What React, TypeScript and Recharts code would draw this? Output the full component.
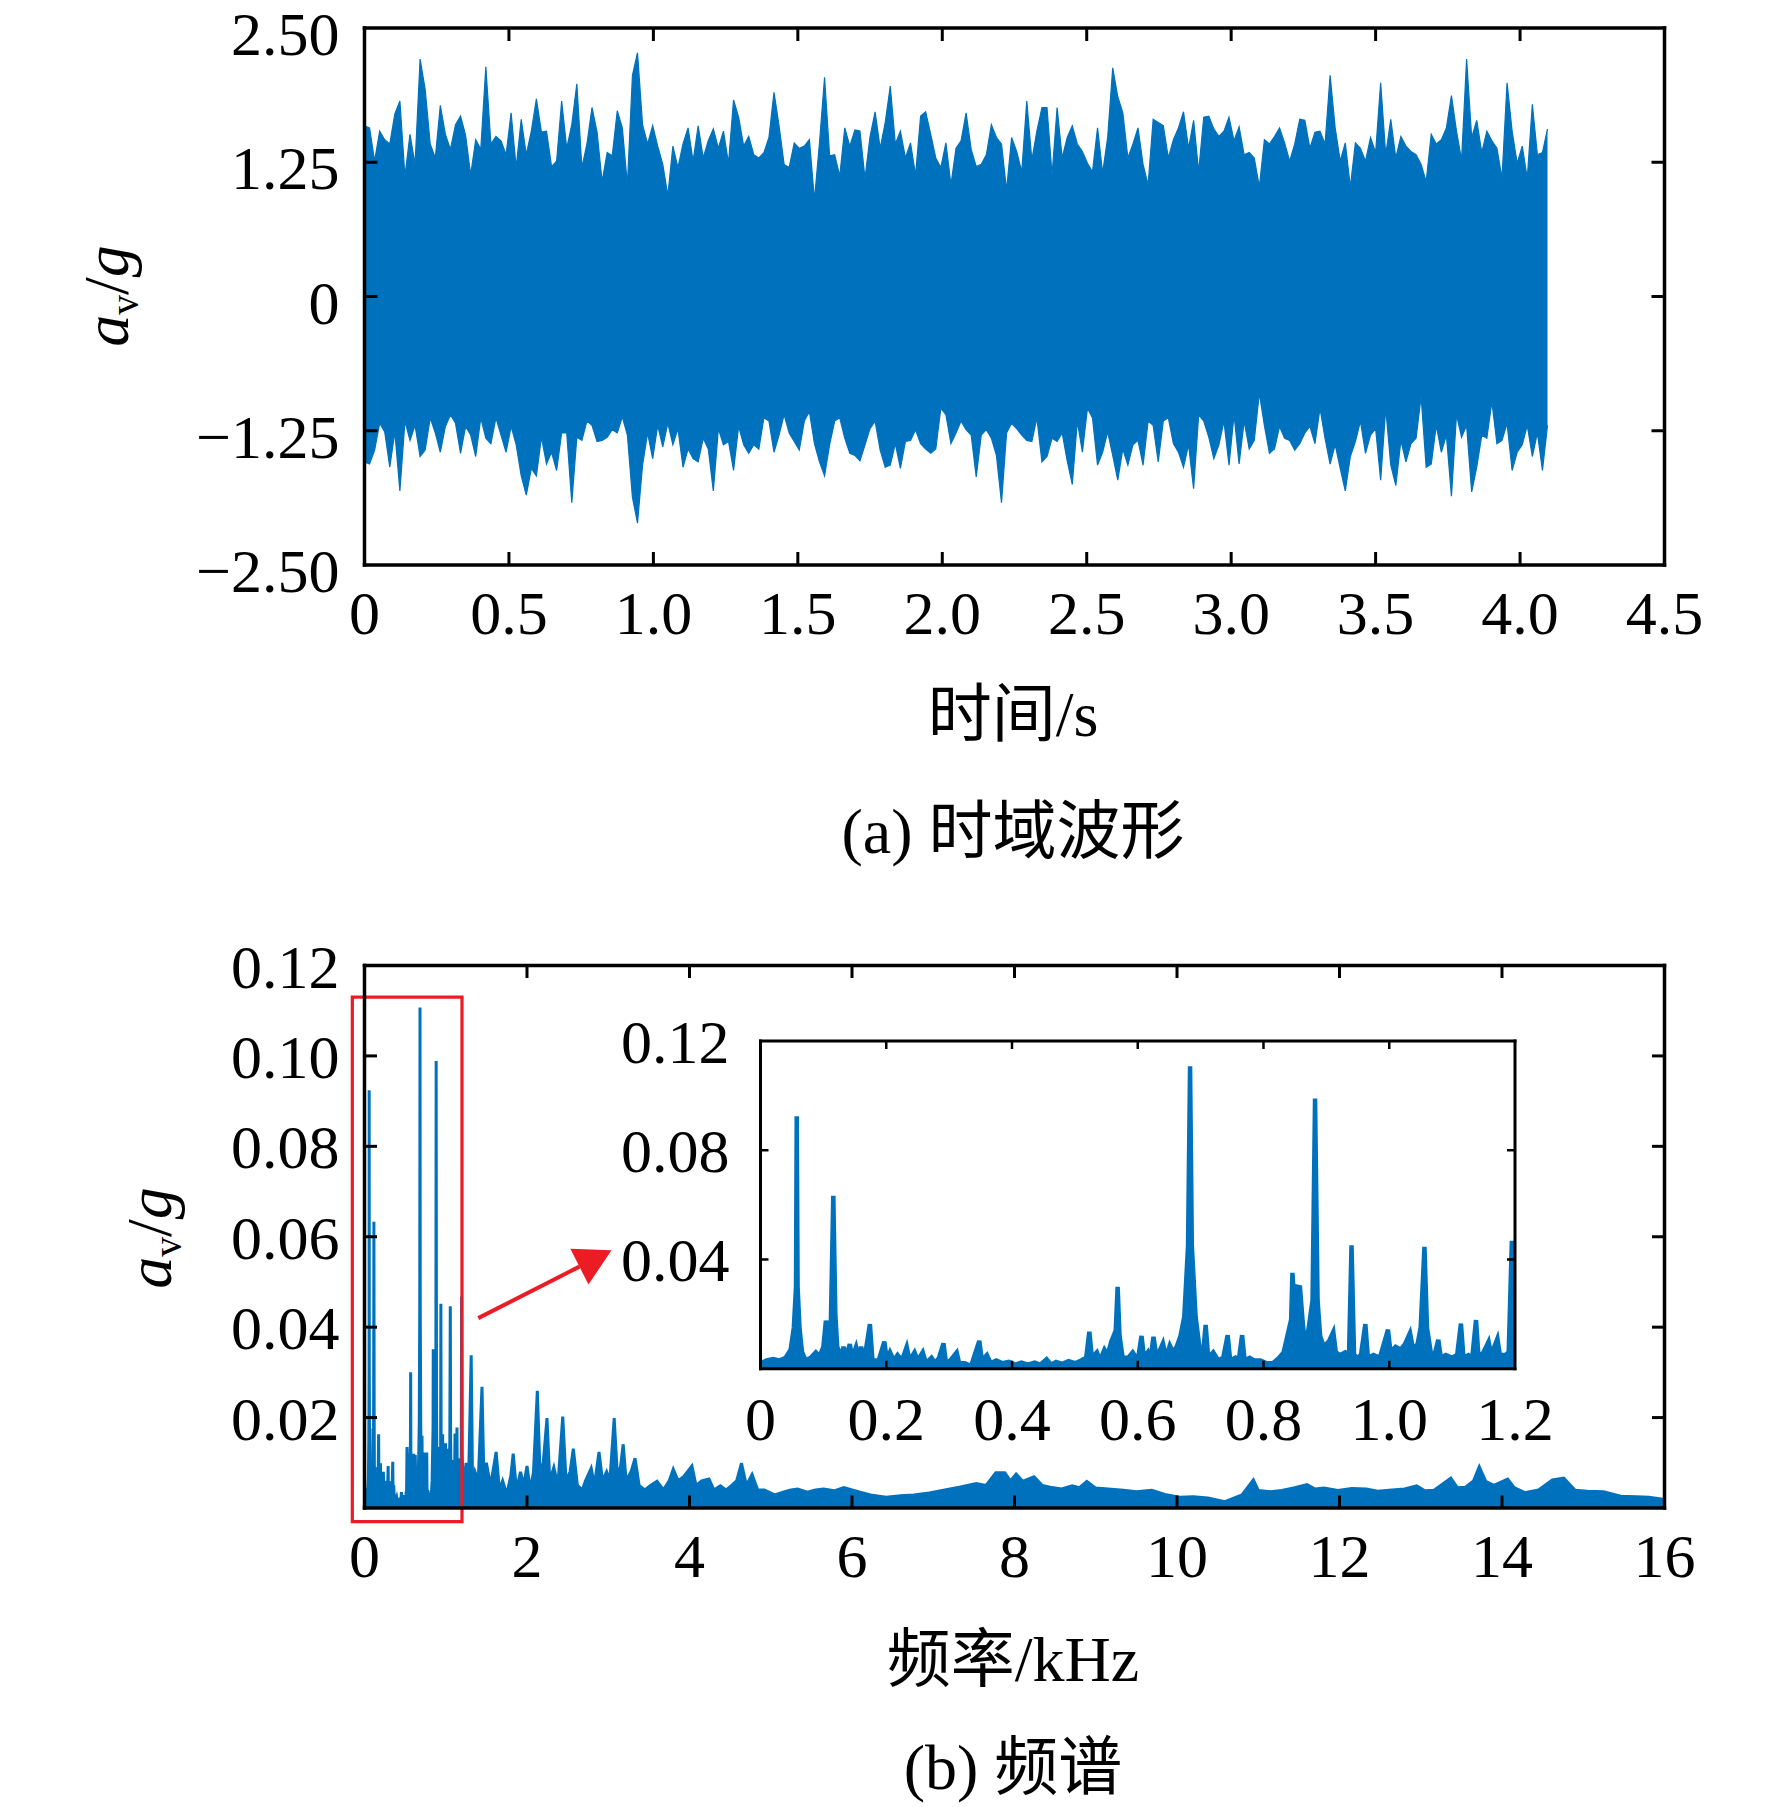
import React from "react";
import { AreaChart, Area, XAxis, YAxis, ReferenceArea, ReferenceLine } from "recharts";

const BLUE = "#0072BD";
const RED = "#EC1C24";
const SERIF = '"Liberation Serif", "Times New Roman", serif';
const CJK = '"Liberation Serif", "Noto Sans CJK SC", serif';

// time-domain envelope, every 0.0175 s (upper / lower tips, in g)
const SAMPLE_STEP = 0.0175;
const peakHigh = [
  1.59, 1.57, 1.26, 1.54, 1.46, 1.42, 1.7, 1.82, 1.12, 1.51,
  1.23, 2.21, 1.93, 1.42, 1.29, 1.78, 1.51, 1.37, 1.6, 1.68,
  1.5, 1.13, 1.46, 1.37, 2.14, 1.42, 1.49, 1.45, 1.32, 1.71,
  1.2, 1.65, 1.32, 1.54, 1.84, 1.53, 1.54, 1.21, 1.26, 1.82,
  1.38, 1.6, 1.98, 1.2, 1.42, 1.76, 1.53, 1.07, 1.34, 1.31,
  1.73, 1.57, 1.04, 2.06, 2.27, 1.6, 1.42, 1.59, 1.4, 1.23,
  0.94, 1.4, 1.2, 1.42, 1.57, 1.26, 1.59, 1.29, 1.45, 1.56,
  1.38, 1.54, 1.24, 1.83, 1.67, 1.4, 1.49, 1.32, 1.29,
  1.34, 1.48, 1.9, 1.59, 1.23, 1.2, 1.43, 1.38, 1.4, 1.46,
  0.9, 1.43, 2.04, 1.31, 1.32, 1.12, 1.57, 1.4, 1.55, 1.54,
  1.1, 1.49, 1.72, 1.38, 1.62, 1.96, 1.42, 1.54, 1.29, 1.43,
  1.13, 1.68, 1.72, 1.51, 1.29, 1.2, 1.43, 1.04, 1.38, 1.45,
  1.71, 1.37, 1.21, 1.23, 1.32, 1.6, 1.48, 1.42, 0.99, 1.48,
  1.35, 1.16, 1.82, 1.27, 1.54, 1.76, 1.76, 1.13, 1.76, 1.29,
  1.48, 1.59, 1.42, 1.35, 1.24, 1.16, 1.57, 1.15, 1.48, 2.13,
  1.86, 1.71, 1.29, 1.42, 1.57, 1.23, 1.04, 1.65,
  1.62, 1.59, 1.29, 1.46, 1.57, 1.72, 1.38, 1.64, 1.16, 1.67,
  1.68, 1.56, 1.49, 1.54, 1.67, 1.45, 1.58, 1.32, 1.34, 1.29,
  1.02, 1.46, 1.42, 1.49, 1.57, 1.43, 1.26, 1.42, 1.65, 1.64,
  1.38, 1.53, 1.54, 1.42, 2.06, 1.57, 1.26, 1.43, 1.02, 1.43,
  1.38, 1.26, 1.48, 1.34, 1.99, 1.32, 1.65, 1.29, 1.49, 1.4,
  1.35, 1.32, 1.23, 1.07, 1.51, 1.42, 1.46, 1.57, 1.87, 1.54,
  1.27, 2.21, 1.48, 1.64, 1.34, 1.54, 1.45, 1.38, 1.1, 1.99,
  1.54, 1.24, 1.4, 1.1, 1.79, 1.32, 1.34, 1.56,
];
const peakLow = [
  -1.54, -1.56, -1.43, -1.18, -1.26, -1.59, -1.26, -1.81, -1.16, -1.34,
  -1.2, -1.49, -1.43, -1.13, -1.27, -1.45, -1.21, -1.1, -1.18, -1.46,
  -1.21, -1.29, -1.49, -1.13, -1.32, -1.37, -1.13, -1.29, -1.45, -1.21,
  -1.38, -1.67, -1.85, -1.6, -1.67, -1.31, -1.56, -1.45, -1.62, -1.27,
  -1.27, -1.92, -1.31, -1.34, -1.16, -1.2, -1.35, -1.34, -1.31, -1.24,
  -1.27, -1.12, -1.29, -1.87, -2.11, -1.57, -1.27, -1.51, -1.2, -1.4,
  -1.18, -1.38, -1.23, -1.59, -1.42, -1.51, -1.54, -1.32, -1.42, -1.81,
  -1.23, -1.38, -1.35, -1.62, -1.21, -1.38, -1.46, -1.38, -1.42,
  -1.13, -1.16, -1.45, -1.29, -1.1, -1.27, -1.35, -1.43, -1.16, -1.07,
  -1.37, -1.54, -1.67, -1.38, -1.16, -1.13, -1.32, -1.46, -1.48, -1.53,
  -1.38, -1.23, -1.16, -1.43, -1.59, -1.57, -1.37, -1.6, -1.35, -1.34,
  -1.24, -1.37, -1.42, -1.46, -1.42, -1.04, -1.1, -1.37, -1.27, -1.16,
  -1.24, -1.29, -1.68, -1.29, -1.24, -1.32, -1.48, -1.92, -1.27, -1.18,
  -1.23, -1.29, -1.34, -1.35, -1.13, -1.54, -1.49, -1.32, -1.35, -1.27,
  -1.53, -1.75, -1.16, -1.45, -1.04, -1.13, -1.57, -1.45, -1.26, -1.48,
  -1.71, -1.42, -1.57, -1.38, -1.34, -1.57, -1.16, -1.2,
  -1.54, -1.16, -1.13, -1.37, -1.45, -1.59, -1.38, -1.79, -1.1, -1.16,
  -1.31, -1.51, -1.38, -1.16, -1.57, -1.1, -1.56, -1.16, -1.42, -1.34,
  -0.9, -1.2, -1.46, -1.42, -1.21, -1.32, -1.34, -1.43, -1.37, -1.27,
  -1.21, -1.37, -1.04, -1.32, -1.56, -1.38, -1.6, -1.81, -1.49, -1.35,
  -1.16, -1.46, -1.29, -1.23, -1.71, -1.04, -1.57, -1.76, -1.34, -1.54,
  -1.37, -1.32, -0.93, -1.59, -1.56, -1.2, -1.45, -1.29, -1.86, -1.1,
  -1.31, -1.2, -1.82, -1.59, -1.29, -1.32, -0.98, -1.37, -1.34, -1.18,
  -1.62, -1.45, -1.38, -1.2, -1.49, -1.27, -1.62, -1.2,
];

// spectrum 0–1.2 kHz (shown in the inset and in the main plot): [kHz, g]
const zoomBand: [number, number][] = [
  [0, 0.002], [0.01, 0.003], [0.02, 0.0035], [0.03, 0.003], [0.04, 0.004], [0.048, 0.007],
  [0.053, 0.015], [0.0565, 0.03], [0.0576, 0.0924], [0.059, 0.03], [0.062, 0.015], [0.066, 0.006],
  [0.072, 0.003], [0.08, 0.004], [0.088, 0.006], [0.094, 0.0045], [0.1, 0.008], [0.104, 0.0176],
  [0.108, 0.012], [0.112, 0.018], [0.1158, 0.0633], [0.119, 0.02], [0.122, 0.008], [0.128, 0.004],
  [0.132, 0.008], [0.136, 0.004], [0.142, 0.009], [0.146, 0.004], [0.152, 0.008], [0.156, 0.004],
  [0.16, 0.008], [0.165, 0.003], [0.174, 0.0163], [0.178, 0.003], [0.188, 0.003], [0.197, 0.0099],
  [0.201, 0.003], [0.206, 0.006], [0.212, 0.003], [0.218, 0.005], [0.225, 0.003], [0.2325, 0.008],
  [0.237, 0.003], [0.245, 0.006], [0.25, 0.003], [0.258, 0.006], [0.263, 0.002], [0.272, 0.004],
  [0.278, 0.002], [0.284, 0.004], [0.291, 0.0093], [0.295, 0.002], [0.302, 0.003], [0.312, 0.0059],
  [0.316, 0.002], [0.325, 0.002], [0.335, 0.001], [0.348, 0.0102], [0.352, 0.003], [0.36, 0.005],
  [0.366, 0.002], [0.375, 0.003], [0.385, 0.002], [0.395, 0.0025], [0.405, 0.0015], [0.415, 0.0022],
  [0.425, 0.0015], [0.436, 0.0022], [0.445, 0.0015], [0.455, 0.0035], [0.462, 0.0015], [0.47, 0.0025],
  [0.48, 0.0018], [0.49, 0.0028], [0.5, 0.002], [0.51, 0.003], [0.518, 0.004], [0.523, 0.0135],
  [0.527, 0.004], [0.535, 0.006], [0.54, 0.003], [0.547, 0.007], [0.552, 0.005], [0.558, 0.01],
  [0.565, 0.014], [0.568, 0.03], [0.571, 0.012], [0.576, 0.004], [0.585, 0.004], [0.592, 0.006],
  [0.6, 0.003], [0.606, 0.012], [0.61, 0.004], [0.616, 0.006], [0.62, 0.003], [0.625, 0.0117],
  [0.63, 0.004], [0.64, 0.0093], [0.645, 0.004], [0.651, 0.0085], [0.656, 0.006], [0.662, 0.008],
  [0.668, 0.012], [0.674, 0.019], [0.68, 0.045], [0.6832, 0.1107], [0.686, 0.045], [0.692, 0.019],
  [0.698, 0.008], [0.703, 0.003], [0.708, 0.016], [0.712, 0.004], [0.72, 0.006], [0.728, 0.003],
  [0.736, 0.004], [0.743, 0.0123], [0.747, 0.003], [0.755, 0.004], [0.76, 0.002], [0.766, 0.0123],
  [0.77, 0.003], [0.778, 0.004], [0.785, 0.003], [0.795, 0.003], [0.805, 0.002], [0.815, 0.002],
  [0.825, 0.004], [0.832, 0.006], [0.838, 0.012], [0.844, 0.018], [0.846, 0.0351], [0.85, 0.02],
  [0.854, 0.03], [0.858, 0.0298], [0.862, 0.018], [0.866, 0.008], [0.872, 0.015], [0.878, 0.025],
  [0.882, 0.0989], [0.886, 0.025], [0.89, 0.012], [0.896, 0.008], [0.904, 0.01], [0.911, 0.0135],
  [0.915, 0.006], [0.922, 0.005], [0.93, 0.006], [0.936, 0.005], [0.94, 0.0452], [0.944, 0.005],
  [0.95, 0.004], [0.955, 0.005], [0.962, 0.0163], [0.966, 0.004], [0.975, 0.005], [0.985, 0.004],
  [0.998, 0.0143], [1.002, 0.006], [1.01, 0.008], [1.018, 0.007], [1.025, 0.009], [1.033, 0.0131],
  [1.038, 0.007], [1.045, 0.009], [1.05, 0.015], [1.056, 0.0446], [1.06, 0.015], [1.066, 0.006],
  [1.072, 0.005], [1.078, 0.0106], [1.082, 0.004], [1.09, 0.005], [1.1, 0.004], [1.108, 0.005],
  [1.114, 0.0165], [1.118, 0.004], [1.126, 0.005], [1.132, 0.004], [1.138, 0.0178], [1.142, 0.004],
  [1.15, 0.006], [1.158, 0.0099], [1.162, 0.005], [1.172, 0.011], [1.176, 0.005], [1.185, 0.005],
  [1.19, 0.006], [1.195, 0.0468], [1.2, 0.012],
];

// spectrum 1.2–16 kHz: [kHz, g]
const upperBand: [number, number][] = [
  [1.22, 0.004], [1.25, 0.01], [1.28, 0.005], [1.313, 0.0338], [1.33, 0.005], [1.36, 0.008],
  [1.4, 0.006], [1.446, 0.0268], [1.47, 0.006], [1.5, 0.01], [1.55, 0.005], [1.58, 0.008],
  [1.62, 0.0124], [1.66, 0.004], [1.7, 0.006], [1.75, 0.003], [1.8, 0.007], [1.83, 0.012],
  [1.87, 0.004], [1.92, 0.008], [1.96, 0.005], [2.0, 0.0093], [2.04, 0.004], [2.08, 0.008],
  [2.127, 0.0259], [2.16, 0.008], [2.2, 0.01], [2.246, 0.0199], [2.28, 0.006], [2.33, 0.009],
  [2.38, 0.005], [2.44, 0.0202], [2.48, 0.006], [2.53, 0.008], [2.57, 0.0131], [2.62, 0.005],
  [2.68, 0.004], [2.72, 0.006], [2.79, 0.0088], [2.83, 0.005], [2.886, 0.0124], [2.93, 0.006],
  [2.98, 0.008], [3.02, 0.006], [3.073, 0.0199], [3.11, 0.008], [3.15, 0.009], [3.184, 0.0141],
  [3.22, 0.006], [3.28, 0.008], [3.33, 0.011], [3.38, 0.005], [3.45, 0.004], [3.52, 0.005],
  [3.6, 0.0059], [3.68, 0.004], [3.75, 0.006], [3.8, 0.0086], [3.86, 0.006], [3.93, 0.007],
  [4.03, 0.0093], [4.08, 0.005], [4.15, 0.006], [4.24, 0.0064], [4.3, 0.004], [4.38, 0.0049],
  [4.45, 0.004], [4.52, 0.005], [4.58, 0.006], [4.64, 0.0099], [4.7, 0.005], [4.77, 0.0074],
  [4.84, 0.004], [4.92, 0.004], [5.05, 0.0029], [5.15, 0.0035], [5.25, 0.004], [5.33, 0.0042],
  [5.45, 0.0035], [5.55, 0.004], [5.65, 0.0042], [5.78, 0.0038], [5.9, 0.0045], [6.0, 0.004],
  [6.1, 0.0035], [6.25, 0.0028], [6.42, 0.0024], [6.6, 0.0027], [6.76, 0.0029], [6.95, 0.0033],
  [7.11, 0.0039], [7.32, 0.0046], [7.53, 0.0054], [7.65, 0.005], [7.77, 0.0078], [7.88, 0.0078],
  [7.95, 0.006], [8.02, 0.0075], [8.1, 0.0059], [8.24, 0.0069], [8.34, 0.005], [8.44, 0.0046],
  [8.58, 0.0042], [8.71, 0.0049], [8.8, 0.0045], [8.89, 0.0059], [9.0, 0.0044], [9.15, 0.0042],
  [9.34, 0.0039], [9.5, 0.0036], [9.69, 0.0039], [9.85, 0.003], [10.03, 0.0024], [10.2, 0.0025],
  [10.38, 0.0022], [10.59, 0.0014], [10.8, 0.0029], [10.94, 0.0062], [11.0, 0.0039], [11.15, 0.0036],
  [11.29, 0.0039], [11.45, 0.0045], [11.6, 0.0052], [11.7, 0.0042], [11.81, 0.0044], [11.98, 0.0039],
  [12.15, 0.0043], [12.33, 0.0042], [12.47, 0.0037], [12.61, 0.0039], [12.8, 0.0042], [12.95, 0.0049],
  [13.05, 0.0038], [13.16, 0.0039], [13.37, 0.0066], [13.45, 0.0045], [13.55, 0.0046], [13.65, 0.006],
  [13.72, 0.0091], [13.8, 0.0059], [13.9, 0.005], [14.07, 0.0064], [14.15, 0.0045], [14.28, 0.0034],
  [14.45, 0.004], [14.62, 0.0062], [14.76, 0.0066], [14.9, 0.0039], [15.05, 0.0037], [15.25, 0.0036],
  [15.46, 0.0026], [15.65, 0.0025], [15.81, 0.0024], [16.0, 0.0019],
];

const timeTicks = [0, 0.5, 1, 1.5, 2, 2.5, 3, 3.5, 4, 4.5];
const ampTicks = [-2.5, -1.25, 0, 1.25, 2.5];
const freqTicks = [0, 2, 4, 6, 8, 10, 12, 14, 16];
const specTicks = [0.02, 0.04, 0.06, 0.08, 0.1, 0.12];
const zoomFreqTicks = [0, 0.2, 0.4, 0.6, 0.8, 1.0, 1.2];
const zoomAmpTicks = [0.04, 0.08, 0.12];

const waveData = peakHigh.map((hi, i) => ({ t: i * SAMPLE_STEP, range: [peakLow[i], hi] }));
const spectrumData = [...zoomBand, ...upperBand].map(([f, a]) => ({ f, a }));
const zoomData = zoomBand.map(([f, a]) => ({ f, a }));

const fmtTime = (v: number) => (v === 0 ? "0" : v.toFixed(1));
const fmtAmp = (v: number) => (v === 0 ? "0" : (v < 0 ? "\u2212" : "") + Math.abs(v).toFixed(2));
const fmtTwo = (v: number) => v.toFixed(2);
const blank = () => "";

// inward tick marks on all four sides, plus the top and right frame lines
function frameAxes(id: string, xKey: string, xDomain: number[], xTicks: number[], yDomain: number[], yTicks: number[], tickLen: number, w: number) {
  const line = { stroke: "#000", strokeWidth: w, strokeLinecap: "square" };
  const tl = { stroke: "#000", strokeWidth: w - 0.5 };
  const common = {
    type: "number" as const,
    allowDataOverflow: true,
    tickFormatter: blank,
    tick: { fontSize: 1, fill: "none" },
    tickSize: tickLen,
    tickMargin: 0,
    tickLine: tl,
    interval: 0 as const,
  };
  return [
    <XAxis key="xt" xAxisId={id + "t"} dataKey={xKey} orientation="top" mirror domain={xDomain} ticks={xTicks} axisLine={line} {...common} />,
    <XAxis key="xb" xAxisId={id + "b"} dataKey={xKey} orientation="bottom" mirror domain={xDomain} ticks={xTicks} axisLine={false} {...common} />,
    <YAxis key="yl" yAxisId={id + "l"} orientation="left" mirror domain={yDomain} ticks={yTicks} axisLine={false} {...common} />,
    <YAxis key="yr" yAxisId={id + "r"} orientation="right" mirror domain={yDomain} ticks={yTicks} axisLine={line} {...common} />,
  ];
}

const tickFont = { fill: "#000", fontSize: 62, fontFamily: SERIF };
const frameLine = { stroke: "#000", strokeWidth: 3.5, strokeLinecap: "square" };

const Arrow = (p: any) => {
  const { x1, y1, x2, y2 } = p;
  const dx = x2 - x1;
  const dy = y2 - y1;
  const len = Math.hypot(dx, dy) || 1;
  const ux = dx / len;
  const uy = dy / len;
  const head = 36;
  const half = 20;
  const bx = x2 - ux * head;
  const by = y2 - uy * head;
  return (
    <g>
      <line x1={x1} y1={y1} x2={bx} y2={by} stroke={RED} strokeWidth={4} />
      <polygon points={`${x2},${y2} ${bx - uy * half},${by + ux * half} ${bx + uy * half},${by - ux * half}`} fill={RED} />
    </g>
  );
};

const AxisTitle = ({ x, y }: { x: number; y: number }) => (
  <div
    style={{
      position: "absolute",
      left: x,
      top: y,
      transform: "translate(-50%, -50%) rotate(-90deg)",
      fontFamily: SERIF,
      fontSize: 64,
      lineHeight: 1,
      whiteSpace: "nowrap",
    }}
  >
    <i>a</i>
    <span style={{ fontSize: "0.62em", verticalAlign: "-0.25em" }}>v</span>/<i>g</i>
  </div>
);

const Caption = ({ y, text }: { y: number; text: string }) => (
  <div
    style={{
      position: "absolute",
      left: 1013,
      top: y,
      transform: "translate(-50%, -50%)",
      fontFamily: CJK,
      fontSize: 64,
      lineHeight: 1,
      whiteSpace: "nowrap",
    }}
  >
    {text}
  </div>
);

export default function App() {
  return (
    <div style={{ position: "relative", width: 1772, height: 1807, background: "#fff", overflow: "hidden" }}>
      <style>{"body{margin:0}"}</style>

      {/* (a) time-domain waveform */}
      <div style={{ position: "absolute", left: 0, top: 0 }}>
        <AreaChart width={1772} height={700} data={waveData} margin={{ top: 28, right: 107.5, bottom: 75, left: 304.5 }}>
          <XAxis
            xAxisId="x"
            dataKey="t"
            type="number"
            domain={[0, 4.5]}
            ticks={timeTicks}
            allowDataOverflow
            interval={0}
            tickFormatter={fmtTime}
            tickLine={false}
            tickSize={0}
            tickMargin={25}
            height={60}
            axisLine={frameLine}
            tick={tickFont}
          />
          <YAxis
            yAxisId="y"
            type="number"
            domain={[-2.5, 2.5]}
            ticks={ampTicks}
            allowDataOverflow
            interval={0}
            tickFormatter={fmtAmp}
            tickLine={false}
            tickSize={0}
            tickMargin={25}
            width={60}
            axisLine={frameLine}
            tick={{ ...tickFont, dy: 5 }}
          />
          {frameAxes("a", "t", [0, 4.5], [0.5, 1, 1.5, 2, 2.5, 3, 3.5, 4], [-2.5, 2.5], [-1.25, 0, 1.25], 13, 3.5)}
          <Area
            xAxisId="x"
            yAxisId="y"
            dataKey="range"
            type="linear"
            stroke={BLUE}
            strokeWidth={1.2}
            fill={BLUE}
            fillOpacity={1}
            dot={false}
            activeDot={false}
            isAnimationActive={false}
          />
        </AreaChart>
      </div>

      {/* (b) spectrum */}
      <div style={{ position: "absolute", left: 0, top: 900 }}>
        <AreaChart width={1772} height={720} data={spectrumData} margin={{ top: 65.5, right: 107.5, bottom: 52, left: 304.5 }}>
          <XAxis
            xAxisId="x"
            dataKey="f"
            type="number"
            domain={[0, 16]}
            ticks={freqTicks}
            allowDataOverflow
            interval={0}
            tickLine={false}
            tickSize={0}
            tickMargin={25}
            height={60}
            axisLine={frameLine}
            tick={tickFont}
          />
          <YAxis
            yAxisId="y"
            type="number"
            domain={[0, 0.12]}
            ticks={specTicks}
            allowDataOverflow
            interval={0}
            tickFormatter={fmtTwo}
            tickLine={false}
            tickSize={0}
            tickMargin={25}
            width={60}
            axisLine={frameLine}
            tick={tickFont}
          />
          {frameAxes("b", "f", [0, 16], [2, 4, 6, 8, 10, 12, 14], [0, 0.12], [0.02, 0.04, 0.06, 0.08, 0.1], 12.5, 3.5)}
          <Area
            xAxisId="x"
            yAxisId="y"
            dataKey="a"
            type="linear"
            baseValue={0}
            stroke={BLUE}
            strokeWidth={3}
            fill={BLUE}
            fillOpacity={1}
            dot={false}
            activeDot={false}
            isAnimationActive={false}
          />
          <ReferenceArea
            xAxisId="x"
            yAxisId="y"
            x1={-0.15}
            x2={1.2}
            y1={-0.003}
            y2={0.113}
            ifOverflow="visible"
            fill="none"
            fillOpacity={0}
            stroke={RED}
            strokeWidth={3.2}
          />
          <ReferenceLine
            xAxisId="x"
            yAxisId="y"
            segment={[{ x: 1.4, y: 0.042 }, { x: 3.04, y: 0.057 }]}
            ifOverflow="visible"
            shape={Arrow}
          />
        </AreaChart>
      </div>

      {/* inset: 0–1.2 kHz */}
      <div style={{ position: "absolute", left: 600, top: 1000 }}>
        <AreaChart width={1000} height={480} data={zoomData} margin={{ top: 41, right: 85, bottom: 51.3, left: 100.5 }}>
          <XAxis
            xAxisId="x"
            dataKey="f"
            type="number"
            domain={[0, 1.2]}
            ticks={zoomFreqTicks}
            allowDataOverflow
            interval={0}
            tickFormatter={fmtTime}
            tickLine={false}
            tickSize={0}
            tickMargin={27}
            height={60}
            axisLine={{ stroke: "#000", strokeWidth: 3, strokeLinecap: "square" }}
            tick={tickFont}
          />
          <YAxis
            yAxisId="y"
            type="number"
            domain={[0, 0.12]}
            ticks={zoomAmpTicks}
            allowDataOverflow
            interval={0}
            tickFormatter={fmtTwo}
            tickLine={false}
            tickSize={0}
            tickMargin={31}
            width={60}
            axisLine={{ stroke: "#000", strokeWidth: 3, strokeLinecap: "square" }}
            tick={tickFont}
          />
          {frameAxes("c", "f", [0, 1.2], [0.2, 0.4, 0.6, 0.8, 1.0], [0, 0.12], [0.04, 0.08], 8, 3)}
          <Area
            xAxisId="x"
            yAxisId="y"
            dataKey="a"
            type="linear"
            baseValue={0}
            stroke={BLUE}
            strokeWidth={4.5}
            fill={BLUE}
            fillOpacity={1}
            dot={false}
            activeDot={false}
            isAnimationActive={false}
          />
        </AreaChart>
      </div>

      <AxisTitle x={110} y={296} />
      <AxisTitle x={153} y={1238} />
      <Caption y={715} text="时间/s" />
      <Caption y={832} text="(a) 时域波形" />
      <Caption y={1660} text="频率/kHz" />
      <Caption y={1768} text="(b) 频谱" />
    </div>
  );
}
